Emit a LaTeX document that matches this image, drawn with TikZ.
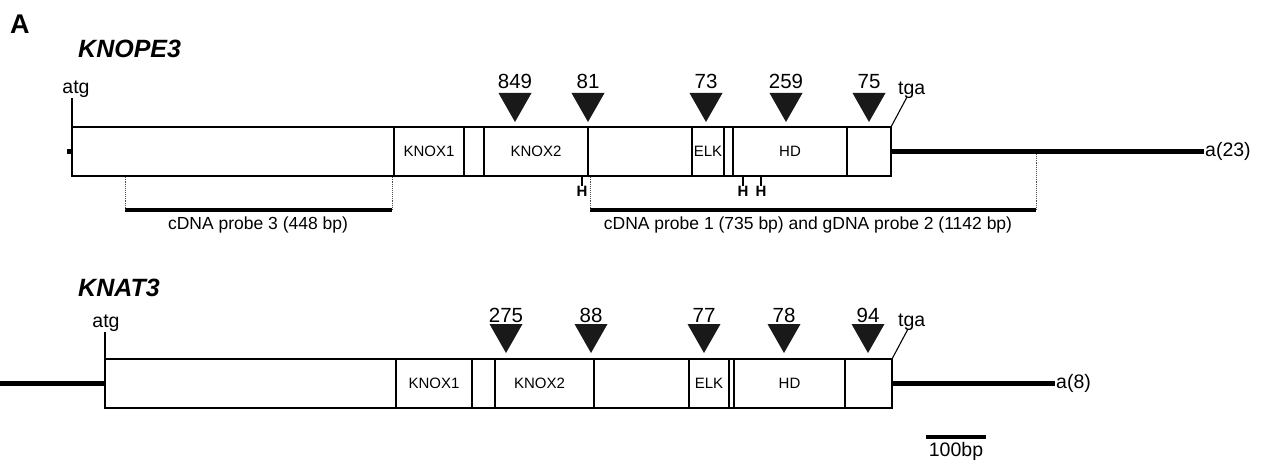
\documentclass[tikz,border=0pt]{standalone}
\usepackage{fontspec}
\setmainfont{Liberation Sans}
\usetikzlibrary{calc}
\newcommand{\myfs}[1]{\fontsize{#1}{#1}\selectfont}
\begin{document}
\begin{tikzpicture}[x=1pt,y=-1pt,
  seg/.style={draw,line width=1.2pt,inner sep=0pt,outer sep=0pt,minimum height=49pt,anchor=north west,font=\myfs{15}},
  dom/.style={seg,line width=1.6pt},
  gline/.style={line width=4.2pt},
  num/.style={font=\myfs{20.5},anchor=base,inner sep=0pt},
  lab/.style={font=\myfs{19.5},inner sep=0pt},
  hlab/.style={font=\myfs{15}\bfseries,anchor=base,inner sep=0pt},
  probe/.style={line width=4.2pt},
  dotv/.style={densely dotted,line width=0.9pt,black!70},
  title/.style={font=\myfs{25}\bfseries\itshape,anchor=base west,inner sep=0pt},
  tri/.style={fill=black!90}]
\useasboundingbox (0,0) rectangle (1267,465);

% panel label and titles
\node[font=\myfs{27}\bfseries,anchor=base west,inner sep=0pt] (pA) at (10,34) {A};
\node[title] (t1) at (78,58) {KNOPE3};
\node[title] (t2) at (78,297) {KNAT3};

% ---------- KNOPE3 ----------
\node[seg,minimum width=322pt] (a1) at (72,127) {};
\node[dom,minimum width=70pt] (a2) at (394,127) {KNOX1};
\node[seg,minimum width=20pt] (a3) at (464,127) {};
\node[dom,minimum width=104pt] (a4) at (484,127) {KNOX2};
\node[seg,minimum width=104pt] (a5) at (588,127) {};
\node[dom,minimum width=32pt] (a6) at (692,127) {ELK};
\node[seg,minimum width=9pt] (a7) at (724,127) {};
\node[dom,minimum width=114pt] (a8) at (733,127) {HD};
\node[seg,minimum width=44pt] (a9) at (847,127) {};

\coordinate (al) at (67,151.5);
\draw[gline] (al) -- (a1.west);
\node[lab,anchor=west,inner sep=1pt] (a23) at (1204,151.5) {a(23)};
\draw[gline] (a9.east) -- (a23.west);

\node[lab,anchor=south] (atg1) at (76,98) {atg};
\draw[line width=1.1pt] (a1.north west) -- (a1.north west |- atg1.south);
\node[lab,anchor=south west] (tga1) at (898,99) {tga};
\draw[line width=1.1pt] (a9.north east) -- ($(tga1.south west)+(9,-2)$);

\foreach \x/\n/\t in {515/849/p1,588/81/p2,706/73/p3,786/259/p4,869/75/p5}{
  \fill[tri] (\x-16.5,93) -- (\x+16.5,93) -- (\x,122) -- cycle;
  \node[num] (\t) at (\x,89) {\n};
}

% HindIII sites
\foreach \x/\t in {582/h1,743/h2,761/h3}{
  \node[hlab] (\t) at (\x,197) {H};
  \draw[line width=1.1pt] (\x,177) -- (\t.north);
}

% probes
\coordinate (q3a) at (125,210);
\coordinate (q3b) at (392,210);
\draw[probe] (q3a) -- (q3b);
\draw[dotv] (q3a) -- (q3a |- a1.south);
\draw[dotv] (q3b) -- (q3b |- a1.south);
\node[font=\myfs{17.5},anchor=base,inner sep=0pt] (q3t) at (258,230) {cDNA probe 3 (448 bp)};

\coordinate (q1a) at (590,210);
\coordinate (q1b) at (1036,210);
\draw[probe] (q1a) -- (q1b);
\draw[dotv] (q1a) -- (q1a |- a5.south);
\draw[dotv] (q1b) -- (1036,154);
\node[font=\myfs{17.5},anchor=base,inner sep=0pt] (q1t) at (808,230) {cDNA probe 1 (735 bp) and gDNA probe 2 (1142 bp)};

% ---------- KNAT3 ----------
\node[seg,minimum width=291pt] (b1) at (105,359) {};
\node[dom,minimum width=76pt] (b2) at (396,359) {KNOX1};
\node[seg,minimum width=23pt] (b3) at (472,359) {};
\node[dom,minimum width=99pt] (b4) at (495,359) {\hspace*{-10pt}KNOX2};
\node[seg,minimum width=95pt] (b5) at (594,359) {};
\node[dom,minimum width=40pt] (b6) at (689,359) {ELK};
\node[seg,minimum width=5pt] (b7) at (729,359) {};
\node[dom,minimum width=111pt] (b8) at (734,359) {HD};
\node[seg,minimum width=47pt] (b9) at (845,359) {};

\coordinate (bl) at (0,383.5);
\draw[gline] (bl) -- (b1.west);
\node[lab,anchor=west,inner sep=1pt] (a8n) at (1055,383.5) {a(8)};
\draw[gline] (b9.east) -- (a8n.west);

\node[lab,anchor=south] (atg2) at (106,332) {atg};
\draw[line width=1.1pt] (b1.north west) -- (b1.north west |- atg2.south);
\node[lab,anchor=south west] (tga2) at (898,331) {tga};
\draw[line width=1.1pt] (b9.north east) -- ($(tga2.south west)+(10,-2)$);

\foreach \x/\n/\t in {506/275/r1,591/88/r2,704/77/r3,784/78/r4,868/94/r5}{
  \fill[tri] (\x-16.5,324) -- (\x+16.5,324) -- (\x,353) -- cycle;
  \node[num] (\t) at (\x,322) {\n};
}

% scale bar
\coordinate (sb1) at (926,437);
\coordinate (sb2) at (986,437);
\draw[line width=3.4pt] (sb1) -- (sb2);
\node[font=\myfs{19.5},anchor=base,inner sep=0pt] (sbt) at (956,456) {100bp};
\end{tikzpicture}
\end{document}
